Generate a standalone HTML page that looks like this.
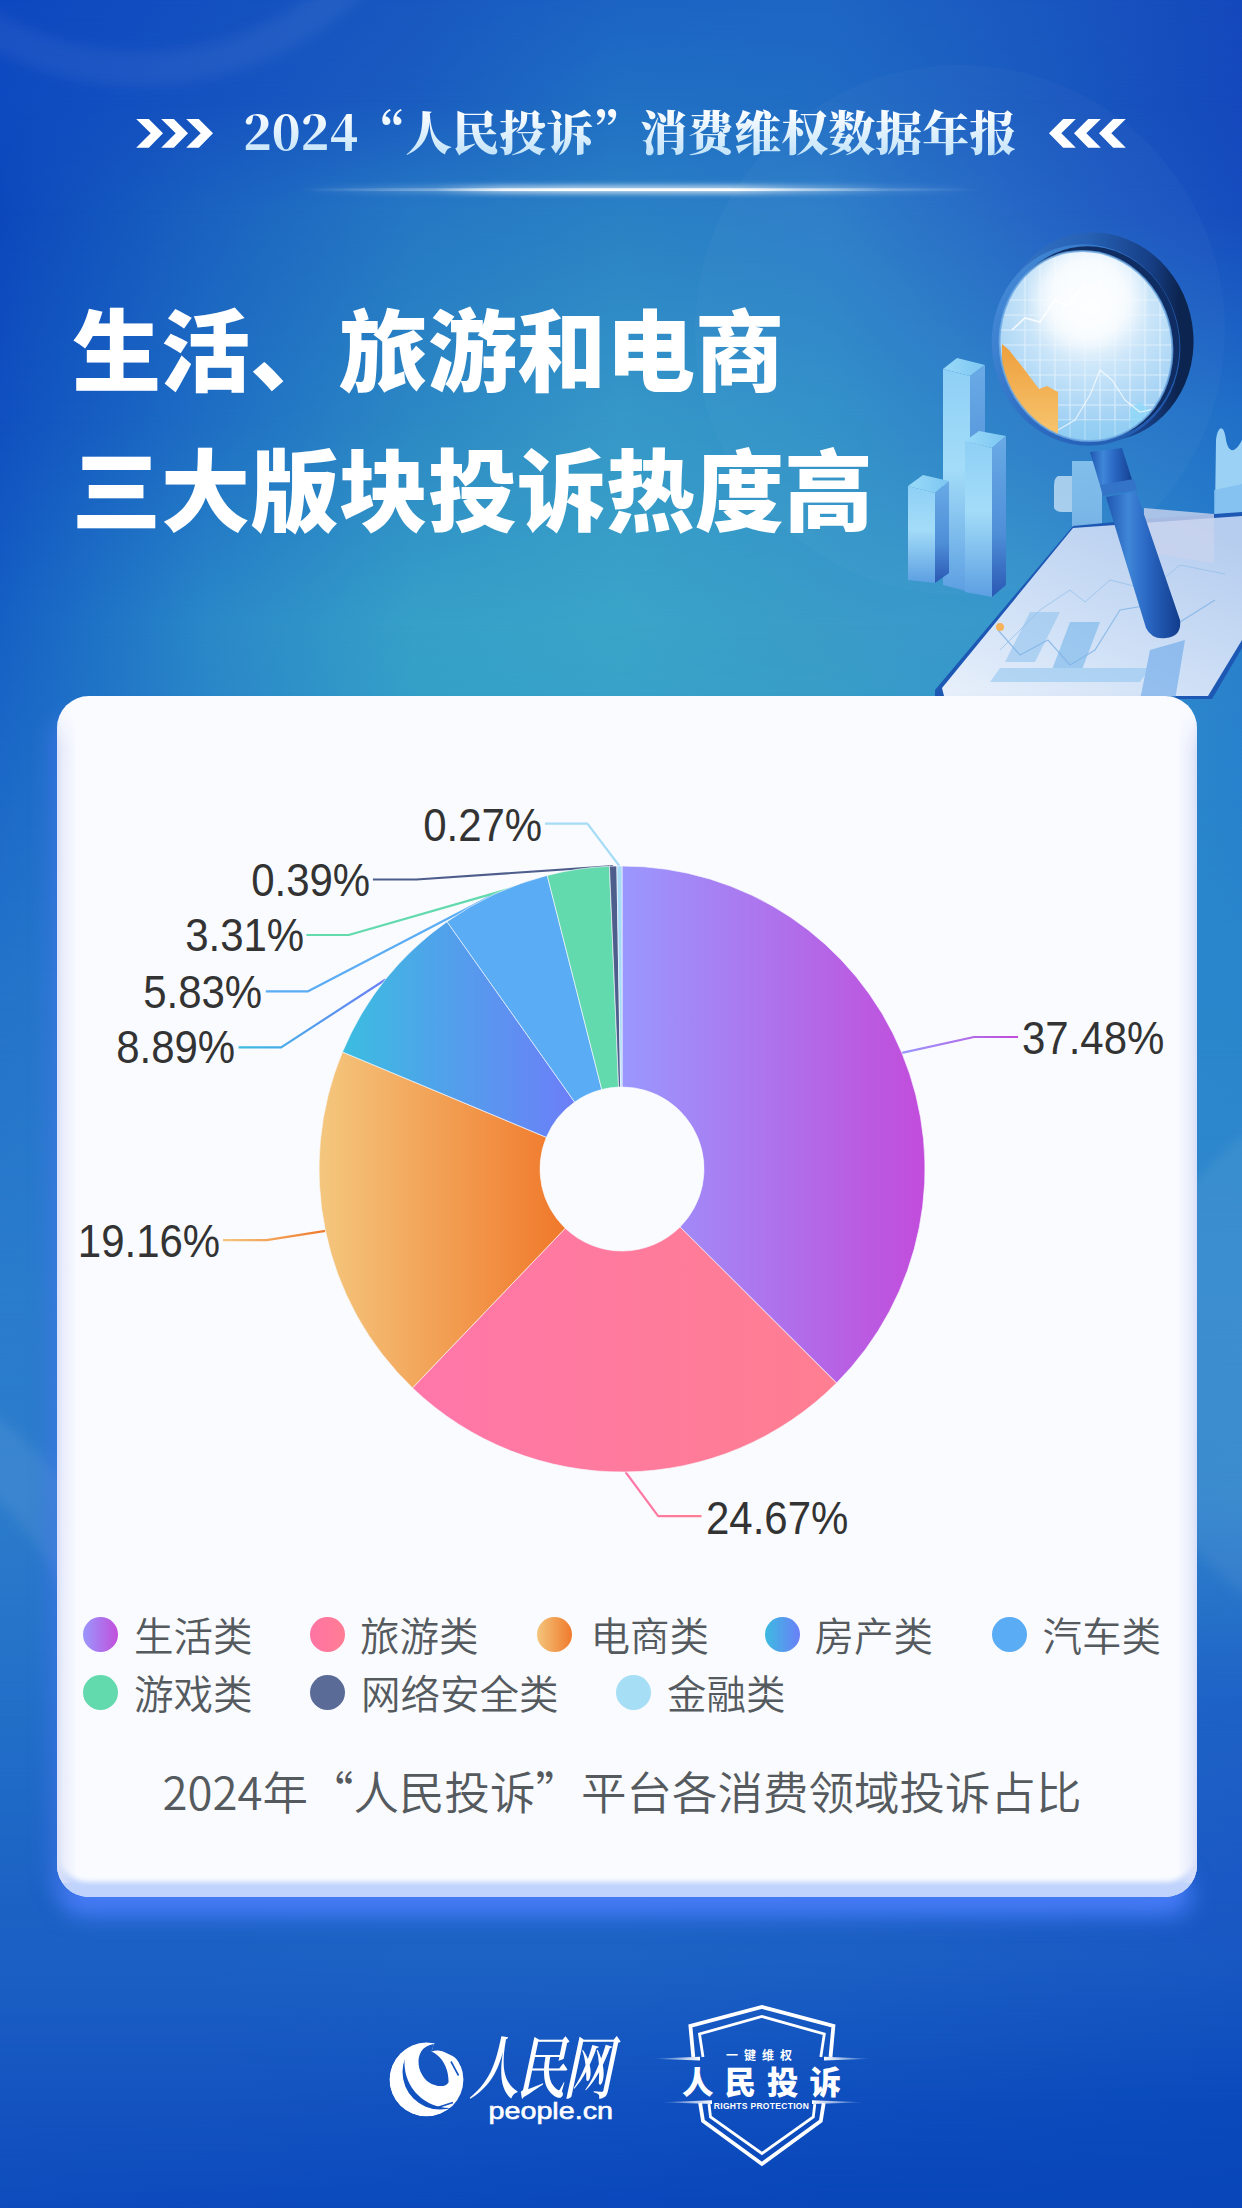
<!DOCTYPE html>
<html lang="zh-CN">
<head>
<meta charset="utf-8">
<title>2024“人民投诉”消费维权数据年报</title>
<style>
html,body{margin:0;padding:0;}
body{width:1242px;height:2208px;overflow:hidden;position:relative;background:#1a55c2;font-family:"Liberation Sans","Noto Sans CJK SC",sans-serif;}
.abs{position:absolute;}
#bg{left:0;top:0;width:1242px;height:2208px;
background:
 radial-gradient(ellipse 800px 600px at 560px 720px, rgba(58,168,200,1) 0%, rgba(52,155,200,0.85) 30%, rgba(40,125,200,0.45) 62%, rgba(30,100,200,0) 100%),
 radial-gradient(ellipse 330px 700px at 1250px 950px, rgba(38,140,210,0.75), rgba(38,140,210,0) 100%),
 radial-gradient(ellipse 200px 520px at 0px 1280px, rgba(55,140,210,0.55), rgba(55,140,210,0) 100%),
 linear-gradient(180deg,#1550c0 0px,#1655c2 200px,#1a60c6 400px,#1d6aca 650px,#2270cb 900px,#2676cc 1200px,#246ec9 1450px,#2066c8 1650px,#1c62c4 1950px,#1456c0 2060px,#0a4abd 2208px);}
#hdr{left:0;top:96px;width:1242px;height:70px;}
.hdrtxt{position:absolute;left:243px;top:100px;font-family:"Noto Serif CJK SC",serif;font-weight:900;font-size:47px;line-height:60px;white-space:nowrap;
 background:linear-gradient(180deg,#ffffff 15%,#c4e4fa 90%);-webkit-background-clip:text;background-clip:text;color:transparent;}
.title{position:absolute;left:72px;margin-top:-4px;font-family:"Noto Sans CJK SC",sans-serif;font-weight:900;font-size:89px;line-height:100px;color:#fff;white-space:nowrap;}
#card{left:57px;top:696px;width:1140px;height:1201px;border-radius:32px;background:#f9fbff;
 box-shadow: inset 0 -17px 5px -2px #bfd3fd, -14px 12px 18px -4px rgba(70,120,240,0.45);overflow:hidden;}
#glow{left:62px;width:1130px;top:1872px;height:44px;border-radius:22px;background:rgba(72,125,250,0.95);filter:blur(11px);}
#card::before,#card::after{content:"";position:absolute;top:14px;bottom:14px;width:20px;-webkit-mask-image:linear-gradient(180deg,transparent 0,#000 40px);mask-image:linear-gradient(180deg,transparent 0,#000 40px);}
#card::before{left:0;background:linear-gradient(90deg,#d9e0f8 0,rgba(223,228,250,0.6) 6px,rgba(249,251,255,0) 20px);}
#card::after{right:0;background:linear-gradient(270deg,#d9e0f8 0,rgba(223,228,250,0.6) 6px,rgba(249,251,255,0) 20px);}
.leg{position:absolute;font-family:"Noto Sans CJK SC",sans-serif;font-weight:350;font-size:39.5px;line-height:40px;color:#555a5e;white-space:nowrap;}
.dot{position:absolute;width:35px;height:35px;border-radius:50%;}
.cap{position:absolute;left:1px;width:1242px;top:1762px;text-align:center;font-family:"Noto Sans CJK SC",sans-serif;font-size:45.5px;line-height:56px;color:#555a5e;font-weight:350;white-space:nowrap;}
</style>
</head>
<body>
<div id="bg" class="abs"></div>
<div id="bgmesh" class="abs" style="left:0;top:0;width:1242px;height:2208px;">
<div style="position:absolute;left:0;top:0px;width:1242px;height:100px;background:linear-gradient(90deg,#0e48c0 0.00%,#1450c0 16.67%,#1858c0 33.33%,#1c64c4 50.00%,#1e66c4 66.67%,#1a58c0 83.33%,#1448bc 100.00%)"><div style="position:absolute;inset:0;background:linear-gradient(90deg,#0e4ac0 0.00%,#1552c0 16.67%,#1a5cc0 33.33%,#2070c4 50.00%,#206cc4 66.67%,#1a5ac0 83.33%,#1448bc 100.00%);-webkit-mask-image:linear-gradient(180deg,transparent,#000);mask-image:linear-gradient(180deg,transparent,#000)"></div></div>
<div style="position:absolute;left:0;top:100px;width:1242px;height:110px;background:linear-gradient(90deg,#0e4ac0 0.00%,#1552c0 16.67%,#1a5cc0 33.33%,#2070c4 50.00%,#206cc4 66.67%,#1a5ac0 83.33%,#1448bc 100.00%)"><div style="position:absolute;inset:0;background:linear-gradient(90deg,#0c48bc 0.00%,#1a62c0 16.67%,#2578c4 33.33%,#2a80c4 50.00%,#2a7cc8 66.67%,#2062c4 83.33%,#164cbe 100.00%);-webkit-mask-image:linear-gradient(180deg,transparent,#000);mask-image:linear-gradient(180deg,transparent,#000)"></div></div>
<div style="position:absolute;left:0;top:210px;width:1242px;height:210px;background:linear-gradient(90deg,#0c48bc 0.00%,#1a62c0 16.67%,#2578c4 33.33%,#2a80c4 50.00%,#2a7cc8 66.67%,#2062c4 83.33%,#164cbe 100.00%)"><div style="position:absolute;inset:0;background:linear-gradient(90deg,#1050c0 0.00%,#1e6ec4 16.67%,#2c88c4 33.33%,#3698c8 50.00%,#3090c8 66.67%,#2a7cc8 83.33%,#2070c8 100.00%);-webkit-mask-image:linear-gradient(180deg,transparent,#000);mask-image:linear-gradient(180deg,transparent,#000)"></div></div>
<div style="position:absolute;left:0;top:420px;width:1242px;height:205px;background:linear-gradient(90deg,#1050c0 0.00%,#1e6ec4 16.67%,#2c88c4 33.33%,#3698c8 50.00%,#3090c8 66.67%,#2a7cc8 83.33%,#2070c8 100.00%)"><div style="position:absolute;inset:0;background:linear-gradient(90deg,#1560c4 0.00%,#2a88c8 16.67%,#36a0c8 33.33%,#3aa4c8 50.00%,#3a9cc8 66.67%,#3898cc 83.33%,#2a80cc 100.00%);-webkit-mask-image:linear-gradient(180deg,transparent,#000);mask-image:linear-gradient(180deg,transparent,#000)"></div></div>
<div style="position:absolute;left:0;top:625px;width:1242px;height:175px;background:linear-gradient(90deg,#1560c4 0.00%,#2a88c8 16.67%,#36a0c8 33.33%,#3aa4c8 50.00%,#3a9cc8 66.67%,#3898cc 83.33%,#2a80cc 100.00%)"><div style="position:absolute;inset:0;background:linear-gradient(90deg,#1c6ac8 0.00%,#2a84c8 16.67%,#32a0c8 33.33%,#36a0c8 50.00%,#36a0c8 66.67%,#3090cc 83.33%,#2882cc 100.00%);-webkit-mask-image:linear-gradient(180deg,transparent,#000);mask-image:linear-gradient(180deg,transparent,#000)"></div></div>
<div style="position:absolute;left:0;top:800px;width:1242px;height:200px;background:linear-gradient(90deg,#1c6ac8 0.00%,#2a84c8 16.67%,#32a0c8 33.33%,#36a0c8 50.00%,#36a0c8 66.67%,#3090cc 83.33%,#2882cc 100.00%)"><div style="position:absolute;inset:0;background:linear-gradient(90deg,#2474ca 0.00%,#2a80cc 16.67%,#2e88cc 33.33%,#2e88cc 50.00%,#2e88cc 66.67%,#2c88cc 83.33%,#2a86cc 100.00%);-webkit-mask-image:linear-gradient(180deg,transparent,#000);mask-image:linear-gradient(180deg,transparent,#000)"></div></div>
<div style="position:absolute;left:0;top:1000px;width:1242px;height:300px;background:linear-gradient(90deg,#2474ca 0.00%,#2a80cc 16.67%,#2e88cc 33.33%,#2e88cc 50.00%,#2e88cc 66.67%,#2c88cc 83.33%,#2a86cc 100.00%)"><div style="position:absolute;inset:0;background:linear-gradient(90deg,#2a7ccc 0.00%,#2a7ccc 16.67%,#2a7ccc 33.33%,#2a7ccc 50.00%,#2c80cc 66.67%,#3086cc 83.33%,#3088cc 100.00%);-webkit-mask-image:linear-gradient(180deg,transparent,#000);mask-image:linear-gradient(180deg,transparent,#000)"></div></div>
<div style="position:absolute;left:0;top:1300px;width:1242px;height:200px;background:linear-gradient(90deg,#2a7ccc 0.00%,#2a7ccc 16.67%,#2a7ccc 33.33%,#2a7ccc 50.00%,#2c80cc 66.67%,#3086cc 83.33%,#3088cc 100.00%)"><div style="position:absolute;inset:0;background:linear-gradient(90deg,#2c7ccc 0.00%,#2a78ca 16.67%,#2876ca 33.33%,#2876ca 50.00%,#2a78ca 66.67%,#2e80cc 83.33%,#3084cc 100.00%);-webkit-mask-image:linear-gradient(180deg,transparent,#000);mask-image:linear-gradient(180deg,transparent,#000)"></div></div>
<div style="position:absolute;left:0;top:1500px;width:1242px;height:200px;background:linear-gradient(90deg,#2c7ccc 0.00%,#2a78ca 16.67%,#2876ca 33.33%,#2876ca 50.00%,#2a78ca 66.67%,#2e80cc 83.33%,#3084cc 100.00%)"><div style="position:absolute;inset:0;background:linear-gradient(90deg,#2270c8 0.00%,#2270c8 16.67%,#2270c8 33.33%,#2270c8 50.00%,#206ac8 66.67%,#1e64c6 83.33%,#1e62c6 100.00%);-webkit-mask-image:linear-gradient(180deg,transparent,#000);mask-image:linear-gradient(180deg,transparent,#000)"></div></div>
<div style="position:absolute;left:0;top:1700px;width:1242px;height:200px;background:linear-gradient(90deg,#2270c8 0.00%,#2270c8 16.67%,#2270c8 33.33%,#2270c8 50.00%,#206ac8 66.67%,#1e64c6 83.33%,#1e62c6 100.00%)"><div style="position:absolute;inset:0;background:linear-gradient(90deg,#1c62c4 0.00%,#1c62c4 16.67%,#1c62c4 33.33%,#1c62c4 50.00%,#1c60c4 66.67%,#1a5cc4 83.33%,#1a58c4 100.00%);-webkit-mask-image:linear-gradient(180deg,transparent,#000);mask-image:linear-gradient(180deg,transparent,#000)"></div></div>
<div style="position:absolute;left:0;top:1900px;width:1242px;height:60px;background:linear-gradient(90deg,#1c62c4 0.00%,#1c62c4 16.67%,#1c62c4 33.33%,#1c62c4 50.00%,#1c60c4 66.67%,#1a5cc4 83.33%,#1a58c4 100.00%)"><div style="position:absolute;inset:0;background:linear-gradient(90deg,#1c60c4 0.00%,#1c60c4 16.67%,#1d62c4 33.33%,#1d62c4 50.00%,#1c60c4 66.67%,#1a5cc4 83.33%,#1858c2 100.00%);-webkit-mask-image:linear-gradient(180deg,transparent,#000);mask-image:linear-gradient(180deg,transparent,#000)"></div></div>
<div style="position:absolute;left:0;top:1960px;width:1242px;height:140px;background:linear-gradient(90deg,#1c60c4 0.00%,#1c60c4 16.67%,#1d62c4 33.33%,#1d62c4 50.00%,#1c60c4 66.67%,#1a5cc4 83.33%,#1858c2 100.00%)"><div style="position:absolute;inset:0;background:linear-gradient(90deg,#1454c0 0.00%,#1454c0 16.67%,#1252c0 33.33%,#1050c0 50.00%,#0e4ebe 66.67%,#0c4cbc 83.33%,#0a4abc 100.00%);-webkit-mask-image:linear-gradient(180deg,transparent,#000);mask-image:linear-gradient(180deg,transparent,#000)"></div></div>
<div style="position:absolute;left:0;top:2100px;width:1242px;height:108px;background:linear-gradient(90deg,#1454c0 0.00%,#1454c0 16.67%,#1252c0 33.33%,#1050c0 50.00%,#0e4ebe 66.67%,#0c4cbc 83.33%,#0a4abc 100.00%)"><div style="position:absolute;inset:0;background:linear-gradient(90deg,#0e4cbc 0.00%,#0c4abc 16.67%,#0a4abc 33.33%,#0a48bc 50.00%,#0846ba 66.67%,#0846ba 83.33%,#0846b8 100.00%);-webkit-mask-image:linear-gradient(180deg,transparent,#000);mask-image:linear-gradient(180deg,transparent,#000)"></div></div>
</div>

<svg class="abs" style="left:0;top:0" width="1242" height="2208" viewBox="0 0 1242 2208">
 <defs><filter id="dblur" x="-0.2" y="-0.2" width="1.4" height="1.4"><feGaussianBlur stdDeviation="6"/></filter></defs>
 <clipPath id="arcclip"><rect x="0" y="1300" width="200" height="400"/></clipPath>
 <g clip-path="url(#arcclip)"><circle cx="-250" cy="1750" r="383" fill="none" stroke="#fff" stroke-opacity="0.07" stroke-width="62" filter="url(#dblur)"/></g>
 <circle cx="1420" cy="1365" r="290" fill="#fff" fill-opacity="0.06" filter="url(#dblur)"/>
 <circle cx="141" cy="-231" r="300" fill="none" stroke="#fff" stroke-opacity="0.05" stroke-width="34" filter="url(#dblur)"/>
 <circle cx="960" cy="330" r="265" fill="#fff" fill-opacity="0.025"/>
</svg>
<!-- header -->
<svg class="abs" style="left:0;top:0" width="1242" height="260" viewBox="0 0 1242 260">
 <defs>
  <linearGradient id="gl" x1="0" x2="1" y1="0" y2="0">
   <stop offset="0" stop-color="#fff" stop-opacity="0"/>
   <stop offset="0.2" stop-color="#fff" stop-opacity="0.3"/>
   <stop offset="0.3" stop-color="#fff" stop-opacity="0.85"/>
   <stop offset="0.4" stop-color="#fff" stop-opacity="1"/>
   <stop offset="0.63" stop-color="#fff" stop-opacity="1"/>
   <stop offset="0.73" stop-color="#fff" stop-opacity="0.55"/>
   <stop offset="0.86" stop-color="#fff" stop-opacity="0.15"/>
   <stop offset="1" stop-color="#fff" stop-opacity="0"/>
  </linearGradient>
  <filter id="lblur" x="-0.1" y="-3" width="1.2" height="7"><feGaussianBlur stdDeviation="2.5"/></filter>
 </defs>
 <g fill="#fff"><polygon points="136.2,119.1 148.8,119.1 163.0,133.3 148.8,147.8 136.2,147.8 150.7,133.3"/><polygon points="1125.8,119.1 1113.2,119.1 1099.0,133.3 1113.2,147.8 1125.8,147.8 1111.3,133.3"/><polygon points="161.2,119.1 173.8,119.1 188.0,133.3 173.8,147.8 161.2,147.8 175.7,133.3"/><polygon points="1100.8,119.1 1088.2,119.1 1074.0,133.3 1088.2,147.8 1100.8,147.8 1086.3,133.3"/><polygon points="186.2,119.1 198.8,119.1 213.0,133.3 198.8,147.8 186.2,147.8 200.7,133.3"/><polygon points="1075.8,119.1 1063.2,119.1 1049.0,133.3 1063.2,147.8 1075.8,147.8 1061.3,133.3"/></g>
 <rect x="300" y="185" width="680" height="9" fill="url(#gl)" opacity="0.6" filter="url(#lblur)"/><rect x="300" y="188.3" width="680" height="2.8" fill="url(#gl)"/>
</svg>
<div class="hdrtxt">2024“人民投诉”消费维权数据年报</div>

<div class="title" style="top:300px">生活、旅游和电商</div>
<div class="title" style="top:440px">三大版块投诉热度高</div>

<!-- illustration -->
<svg class="abs" style="left:880px;top:220px" width="362" height="480" viewBox="880 220 362 480">
 <defs>
  <linearGradient id="phs" x1="0" y1="1" x2="0.8" y2="0">
   <stop offset="0" stop-color="#e8f0fb"/><stop offset="0.45" stop-color="#cfe0f6"/><stop offset="1" stop-color="#b6cdef"/>
  </linearGradient>
  <linearGradient id="bf" x1="0" y1="0" x2="0" y2="1">
   <stop offset="0" stop-color="#8fd0f6"/><stop offset="0.45" stop-color="#a3dcf8"/><stop offset="1" stop-color="#5c9fe2"/>
  </linearGradient>
  <linearGradient id="bs" x1="0" y1="0" x2="0" y2="1">
   <stop offset="0" stop-color="#69aae6"/><stop offset="0.6" stop-color="#4f8fd8"/><stop offset="1" stop-color="#2a58b4"/>
  </linearGradient>
  <linearGradient id="bt" x1="0" y1="0" x2="1" y2="0">
   <stop offset="0" stop-color="#9adaf8"/><stop offset="1" stop-color="#7cc6f2"/>
  </linearGradient>
  <linearGradient id="hdl" x1="0" y1="0" x2="1" y2="0">
   <stop offset="0" stop-color="#1f56b0"/><stop offset="0.3" stop-color="#3f86d8"/><stop offset="0.55" stop-color="#2a68c4"/><stop offset="1" stop-color="#123c8c"/>
  </linearGradient>
  <radialGradient id="glass" cx="0.5" cy="0.32" r="0.72">
   <stop offset="0" stop-color="#eaf5fd"/><stop offset="0.35" stop-color="#d2e9fa"/><stop offset="0.7" stop-color="#a9d5f5"/><stop offset="1" stop-color="#86c4f0"/>
  </radialGradient>
  <linearGradient id="ring" x1="0" y1="0" x2="1" y2="1">
   <stop offset="0" stop-color="#4a92dc"/><stop offset="0.5" stop-color="#2c6cc2"/><stop offset="1" stop-color="#1d52a6"/>
  </linearGradient>
  <linearGradient id="ringback" x1="0" y1="0" x2="1" y2="0.3">
   <stop offset="0" stop-color="#3a7ccc"/><stop offset="0.55" stop-color="#2560b4"/><stop offset="0.85" stop-color="#173f86"/><stop offset="1" stop-color="#0c2450"/>
  </linearGradient>
  <clipPath id="gclip"><ellipse cx="1086" cy="346" rx="86" ry="95.5" transform="rotate(-12 1086 346)"/></clipPath>
  <filter id="blur3"><feGaussianBlur stdDeviation="3"/></filter>
  <filter id="blur8"><feGaussianBlur stdDeviation="10"/></filter>
 </defs>
 <!-- far right bar -->
 <path d="M1216,440 C1218,425 1224,424 1226,440 C1229,455 1236,452 1242,440 L1242,590 L1214,585 Z" fill="#a9dcf8" opacity="0.9"/>
 <path d="M1214,490 L1242,484 L1242,600 L1214,600 Z" fill="#7fbef0" opacity="0.8"/>
 <!-- back bar behind handle -->
 <path d="M1058,476 Q1054,478 1054,486 L1054,508 Q1056,512 1062,512 L1072,512 L1072,476 Z" fill="#cfe6f8" opacity="0.75"/>
 <rect x="1072" y="461" width="30" height="90" fill="#9dd3f5" opacity="0.85"/>
 <rect x="1072" y="461" width="30" height="90" fill="url(#bs)" opacity="0.3"/>
 <!-- phone -->
 <path d="M935,690 L1073,526 L1146,519 L1242,512 L1242,648 L1212,699 L935,699 Z" fill="#1d58b4"/>
 <path d="M942,688 L1073,528 L1242,516 L1242,640 L1208,696 L944,696 Z" fill="url(#phs)"/>
 <path d="M1144,508 L1214,514 L1214,563 L1144,552 Z" fill="#c9d3ee" opacity="0.8"/>
 <g opacity="0.55">
  <path d="M1005,662 L1030,612 L1060,612 L1035,662 Z" fill="#8dc2ee"/>
  <path d="M1050,675 L1070,622 L1100,622 L1080,675 Z" fill="#6eb2ea"/>
  <path d="M990,682 L1140,682 L1150,668 L1000,668 Z" fill="#8ec4ef"/>
  <path d="M1140,700 L1150,650 L1185,640 L1175,700 Z" fill="#5fa2e8"/>
 </g>
 <polyline points="998,630 1020,655 1048,640 1070,665 1095,650 1120,610 1150,605 1180,622 1215,600" fill="none" stroke="#7fb3e6" stroke-width="1.2" opacity="0.8"/>
 <polyline points="1000,650 1040,610 1070,590 1085,602 1110,580 1150,590 1180,565 1225,574" fill="none" stroke="#8fbde9" stroke-width="1" opacity="0.7"/>
 <circle cx="1000" cy="627" r="4" fill="#f6b35c"/>
 <!-- left bars -->
 <!-- tall bar -->
 <polygon points="943,369 957,358 985,365 970,376" fill="url(#bt)"/>
 <polygon points="943,369 970,376 970,592 943,585" fill="url(#bf)"/>
 <polygon points="970,376 985,365 985,585 970,592" fill="url(#bs)"/>
 <!-- medium bar -->
 <polygon points="965,441 979,431 1006,436 992,448" fill="url(#bt)"/>
 <polygon points="965,441 992,448 992,597 965,592" fill="url(#bf)"/>
 <polygon points="992,448 1006,436 1006,585 992,597" fill="url(#bs)"/>
 <!-- small bar -->
 <polygon points="908,486 923,475 949,481 935,493" fill="url(#bt)"/>
 <polygon points="908,486 935,493 935,583 908,580" fill="url(#bf)"/>
 <polygon points="935,493 949,481 949,573 935,583" fill="url(#bs)"/>
 <!-- handle -->
 <path d="M1090,452 L1122,448 L1134,486 L1102,492 Z" fill="url(#hdl)"/>
 <path d="M1100,485 L1134,479 L1137,490 L1103,496 Z" fill="#3474c8"/>
 <path d="M1106,497 L1136,491 L1180,620 Q1182,636 1166,638 Q1152,640 1146,628 Z" fill="url(#hdl)"/>
 <!-- ring back -->
 <ellipse cx="1097" cy="337" rx="96" ry="105" transform="rotate(-14 1097 337)" fill="url(#ringback)"/>
 <!-- ring front -->
 <ellipse cx="1086" cy="345" rx="94" ry="101" transform="rotate(-12 1086 345)" fill="url(#ring)"/>
 <ellipse cx="1091" cy="343" rx="88" ry="97" transform="rotate(-12 1091 343)" fill="#0f2d62"/>
 <!-- glass -->
 <g clip-path="url(#gclip)">
  <rect x="990" y="240" width="200" height="210" fill="url(#glass)"/>
  <g stroke="#e4f3fd" stroke-width="1.1" opacity="0.85">
   <line x1="1025" y1="240" x2="1025" y2="450"/><line x1="1040" y1="240" x2="1040" y2="450"/>
   <line x1="1055" y1="240" x2="1055" y2="450"/><line x1="1070" y1="240" x2="1070" y2="450"/><line x1="1085" y1="240" x2="1085" y2="450"/>
   <line x1="1100" y1="240" x2="1100" y2="450"/><line x1="1115" y1="240" x2="1115" y2="450"/><line x1="1130" y1="240" x2="1130" y2="450"/>
   <line x1="1145" y1="240" x2="1145" y2="450"/><line x1="1160" y1="240" x2="1160" y2="450"/>
   <line x1="990" y1="300" x2="1190" y2="300"/><line x1="990" y1="315" x2="1190" y2="315"/><line x1="990" y1="330" x2="1190" y2="330"/>
   <line x1="990" y1="345" x2="1190" y2="345"/><line x1="990" y1="360" x2="1190" y2="360"/><line x1="990" y1="375" x2="1190" y2="375"/>
   <line x1="990" y1="390" x2="1190" y2="390"/><line x1="990" y1="405" x2="1190" y2="405"/><line x1="990" y1="420" x2="1190" y2="420"/>
  </g>
  <path d="M1130,408 L1140,402 L1150,410 L1160,404 L1178,412 L1178,450 L1130,450 Z" fill="#8fd8f8" opacity="0.75"/>
  <rect x="1055" y="420" width="125" height="30" fill="#8ccff5" opacity="0.45"/>
  <polyline points="1012,330 1025,318 1040,322 1055,300 1068,306 1080,290" fill="none" stroke="#fff" stroke-width="1.6" opacity="0.85"/>
  <polyline points="1058,430 1075,420 1090,395 1100,370 1112,380 1125,400 1140,412 1172,405" fill="none" stroke="#fff" stroke-width="1.2" opacity="0.7"/>
  <ellipse cx="1088" cy="298" rx="50" ry="52" fill="#fff" opacity="0.85" filter="url(#blur8)"/>
  <linearGradient id="org" x1="0" y1="0" x2="0" y2="1"><stop offset="0" stop-color="#ee9f3c"/><stop offset="1" stop-color="#f9cf7c"/></linearGradient>
  <path d="M1002,344 L1009,350 L1024,369 L1039,389 L1047,386 L1058,392 L1058,460 L1002,460 Z" fill="url(#org)"/>
 </g>
 <ellipse cx="1086" cy="346" rx="86" ry="95.5" transform="rotate(-12 1086 346)" fill="none" stroke="#6aa6e2" stroke-width="2" opacity="0.8"/>
</svg>

<div id="glow" class="abs"></div>
<div id="card" class="abs"></div>

<!-- pie -->
<svg class="abs" style="left:0;top:0" width="1242" height="1600" viewBox="0 0 1242 1600">
 <defs>
  <linearGradient id="g1" x1="0" x2="1" y1="0" y2="0"><stop offset="0" stop-color="#9a98fe"/><stop offset="1" stop-color="#c24cdb"/></linearGradient>
  <linearGradient id="g2" x1="0" x2="1" y1="0" y2="0"><stop offset="0" stop-color="#ff77a9"/><stop offset="1" stop-color="#ff7e91"/></linearGradient>
  <linearGradient id="g3" x1="0" x2="1" y1="0" y2="0"><stop offset="0" stop-color="#f4c77e"/><stop offset="1" stop-color="#f0782a"/></linearGradient>
  <linearGradient id="g4" x1="0" x2="1" y1="0" y2="0"><stop offset="0" stop-color="#3bbde0"/><stop offset="1" stop-color="#6c7ef8"/></linearGradient>
  <linearGradient id="l1" x1="0" x2="1" y1="0" y2="0"><stop offset="0" stop-color="#9a98fe"/><stop offset="1" stop-color="#c24cdb"/></linearGradient>
  <linearGradient id="l2" x1="0" x2="1" y1="0" y2="0"><stop offset="0" stop-color="#ff77a9"/><stop offset="1" stop-color="#ff7e91"/></linearGradient>
  <linearGradient id="l3" x1="0" x2="1" y1="0" y2="0"><stop offset="0" stop-color="#f4c77e"/><stop offset="1" stop-color="#f0782a"/></linearGradient>
  <linearGradient id="l4" x1="0" x2="1" y1="0" y2="0"><stop offset="0" stop-color="#3bbde0"/><stop offset="1" stop-color="#6c7ef8"/></linearGradient>
 </defs>
 <g><polyline points="901.9,1052.9 974,1037 1018,1037" fill="none" stroke="url(#l1)" stroke-width="2.2" stroke-linejoin="round"/><polyline points="625.5,1472 658.2,1516.1 701.5,1516.1" fill="none" stroke="url(#l2)" stroke-width="2.2" stroke-linejoin="round"/><polyline points="325.4,1230.8 266.5,1240.2 223,1240.2" fill="none" stroke="url(#l3)" stroke-width="2.2" stroke-linejoin="round"/><polyline points="385.6,979.5 281.2,1047.3 238.6,1047.3" fill="none" stroke="url(#l4)" stroke-width="2.2" stroke-linejoin="round"/><polyline points="495,893.9 308.1,991.3 265.8,991.3" fill="none" stroke="#5aacf4" stroke-width="2.2" stroke-linejoin="round"/><polyline points="578.1,869.2 348.7,935 306.4,935" fill="none" stroke="#63d9ae" stroke-width="2.2" stroke-linejoin="round"/><polyline points="613.1,866.1 416.4,879.5 372.9,879.5" fill="none" stroke="#4e5e8c" stroke-width="2.2" stroke-linejoin="round"/><polyline points="619.4,866 587.4,823.6 545,823.6" fill="none" stroke="#a6dcf6" stroke-width="2.2" stroke-linejoin="round"/></g>
 <g stroke="#f9fbff" stroke-width="0.8" stroke-opacity="0.8" stroke-linejoin="round"><path d="M622.00,866.00A303,303 0 0 1 836.52,1382.98L680.06,1226.91A82,82 0 0 0 622.00,1087.00Z" fill="url(#g1)"/><path d="M836.52,1382.98A303,303 0 0 1 412.51,1387.91L565.31,1228.24A82,82 0 0 0 680.06,1226.91Z" fill="url(#g2)"/><path d="M412.51,1387.91A303,303 0 0 1 342.50,1051.99L546.36,1137.33A82,82 0 0 0 565.31,1228.24Z" fill="url(#g3)"/><path d="M342.50,1051.99A303,303 0 0 1 447.00,921.65L574.64,1102.06A82,82 0 0 0 546.36,1137.33Z" fill="url(#g4)"/><path d="M447.00,921.65A303,303 0 0 1 547.20,875.38L601.76,1089.54A82,82 0 0 0 574.64,1102.06Z" fill="#5aacf4"/><path d="M547.20,875.38A303,303 0 0 1 609.44,866.26L618.60,1087.07A82,82 0 0 0 601.76,1089.54Z" fill="#63d9ae"/><path d="M609.44,866.26A303,303 0 0 1 616.86,866.04L620.61,1087.01A82,82 0 0 0 618.60,1087.07Z" fill="#4e5e8c"/><path d="M616.86,866.04A303,303 0 0 1 622.00,866.00L622.00,1087.00A82,82 0 0 0 620.61,1087.01Z" fill="#a6dcf6"/></g>
 <g font-family="Liberation Sans, sans-serif" font-size="42" fill="#333"><text transform="translate(1022 1054) scale(1 1.1)" text-anchor="start">37.48%</text><text transform="translate(706 1534) scale(1 1.1)" text-anchor="start">24.67%</text><text transform="translate(220.2 1257) scale(1 1.1)" text-anchor="end">19.16%</text><text transform="translate(235.2 1063) scale(1 1.1)" text-anchor="end">8.89%</text><text transform="translate(262.2 1007.5) scale(1 1.1)" text-anchor="end">5.83%</text><text transform="translate(304.2 951) scale(1 1.1)" text-anchor="end">3.31%</text><text transform="translate(370.2 896) scale(1 1.1)" text-anchor="end">0.39%</text><text transform="translate(542.2 840.5) scale(1 1.1)" text-anchor="end">0.27%</text></g>
</svg>

<!-- legend -->
<div class="dot" style="left:83px;top:1617px;background:linear-gradient(90deg,#9a97fd,#c24fdb)"></div>
<div class="leg" style="left:134px;top:1614px">生活类</div>
<div class="dot" style="left:310px;top:1617px;background:linear-gradient(90deg,#ff74a4,#ff7d94)"></div>
<div class="leg" style="left:360px;top:1614px">旅游类</div>
<div class="dot" style="left:537px;top:1617px;background:linear-gradient(90deg,#f3c57c,#f07a2c)"></div>
<div class="leg" style="left:590.5px;top:1614px">电商类</div>
<div class="dot" style="left:765px;top:1617px;background:linear-gradient(90deg,#3cbbe0,#6b80f8)"></div>
<div class="leg" style="left:814.6px;top:1614px">房产类</div>
<div class="dot" style="left:992px;top:1617px;background:#5aacf4"></div>
<div class="leg" style="left:1042.6px;top:1614px">汽车类</div>
<div class="dot" style="left:83px;top:1675px;background:#63d9ae"></div>
<div class="leg" style="left:134px;top:1672px">游戏类</div>
<div class="dot" style="left:310px;top:1675px;background:#5a6b98"></div>
<div class="leg" style="left:361px;top:1672px">网络安全类</div>
<div class="dot" style="left:616px;top:1675px;background:#a6def6"></div>
<div class="leg" style="left:667px;top:1672px">金融类</div>

<div class="cap">2024年“人民投诉”平台各消费领域投诉占比</div>

<!-- logos -->
<svg class="abs" style="left:380px;top:1995px" width="510" height="185" viewBox="380 1995 510 185">
 <defs>
  <linearGradient id="wingL" x1="0" x2="1" y1="0" y2="0"><stop offset="0" stop-color="#fff" stop-opacity="0"/><stop offset="1" stop-color="#fff"/></linearGradient>
  <linearGradient id="wingR" x1="1" x2="0" y1="0" y2="0"><stop offset="0" stop-color="#fff" stop-opacity="0"/><stop offset="1" stop-color="#fff"/></linearGradient>
  
 </defs>
 <!-- people.cn globe -->
 <mask id="gm" maskUnits="userSpaceOnUse" x="380" y="2030" width="100" height="100">
  <circle cx="426.4" cy="2079.6" r="37" fill="#fff"/>
  <circle cx="440" cy="2072.1" r="37.5" fill="#000"/>
  <circle cx="449.5" cy="2063" r="45" fill="#fff"/>
  <path d="M433.9,2043.9 C428,2045 424,2048 423.3,2048.7 C420,2052 418.5,2057 418.5,2061 C418.5,2066 419.5,2070 421.3,2073.3 C423.5,2077.5 426,2080.5 428.8,2082.2 C433,2085 438,2086.5 443.2,2086 C445.5,2085.5 447.5,2084 448.6,2082.2 C448.5,2077 447.8,2072.5 446.6,2069.2 C444.8,2064 442.5,2060.5 439.8,2057.6 C437,2054.5 434,2052.5 431.5,2051.4 Z" fill="#000"/>
  <path d="M431.5,2051.4 L433.9,2043.9 L438.4,2042 L466,2042 L466,2066 L460.3,2066 C459.8,2064.5 459.3,2063.4 458.9,2062.4 C456.5,2058.5 453.5,2056.2 450,2054.8 C446.5,2052.8 443,2051.3 439.8,2050.7 C436.5,2050.3 434,2050.6 431.5,2051.4 Z" fill="#000"/>
  <path d="M451,2061.5 L458.5,2075.5" stroke="#000" stroke-width="1.6"/>
  <path d="M453,2102.5 L436,2108" stroke="#000" stroke-width="1.6"/>
 </mask>
 <clipPath id="gdisc"><circle cx="426.4" cy="2079.6" r="37"/></clipPath>
 <rect x="380" y="2030" width="100" height="100" fill="#fff" mask="url(#gm)" clip-path="url(#gdisc)"/>
 <text x="0" y="0" font-family="Noto Serif CJK SC, serif" font-weight="600" font-size="54" fill="#fff" transform="translate(469 2093.4) skewX(-12) scale(0.92 1.27)" letter-spacing="-3">人民网</text>
 <text x="488.5" y="2119.2" font-family="Liberation Sans, sans-serif" font-weight="400" font-size="24.5" textLength="124.5" lengthAdjust="spacingAndGlyphs" fill="#fff" stroke="#fff" stroke-width="0.6">people.cn</text>
 <!-- shield -->
 <g fill="none" stroke="#fff" stroke-linejoin="miter">
  <polyline points="693.3,2057 690.4,2026 761.9,2007 833.4,2026 830.5,2057" stroke-width="3.8"/>
  <polyline points="700.1,2103 703,2121 761.9,2164 820.8,2121 823.7,2103" stroke-width="3.8"/>
  <polyline points="703,2057 699.5,2034 761.9,2016.5 824.3,2034 820.8,2057" stroke-width="2.8"/>
  <polyline points="709,2104 710.5,2117 761.9,2153.5 813.3,2117 814.8,2104" stroke-width="2.8"/>
 </g>
 <polygon points="652,2058.8 700,2056.8 700,2060.5" fill="url(#wingL)"/>
 <polygon points="872,2058.8 824,2056.8 824,2060.5" fill="url(#wingR)"/>
 <polygon points="660,2102.2 712,2100.2 712,2104" fill="url(#wingL)"/>
 <polygon points="865,2102.2 812,2100.2 812,2104" fill="url(#wingR)"/>
 <text x="762" y="2060" text-anchor="middle" font-family="Noto Sans CJK SC, sans-serif" font-weight="700" font-size="12" letter-spacing="6" fill="#fff">一键维权</text>
 <text x="767" y="2094" text-anchor="middle" font-family="Noto Sans CJK SC, sans-serif" font-weight="900" font-size="31.5" letter-spacing="11" fill="#fff">人民投诉</text>
 <text x="761.5" y="2108.5" text-anchor="middle" font-family="Liberation Sans, sans-serif" font-weight="700" font-size="8.5" letter-spacing="0.3" fill="#fff">RIGHTS PROTECTION</text>
</svg>

</body>
</html>
